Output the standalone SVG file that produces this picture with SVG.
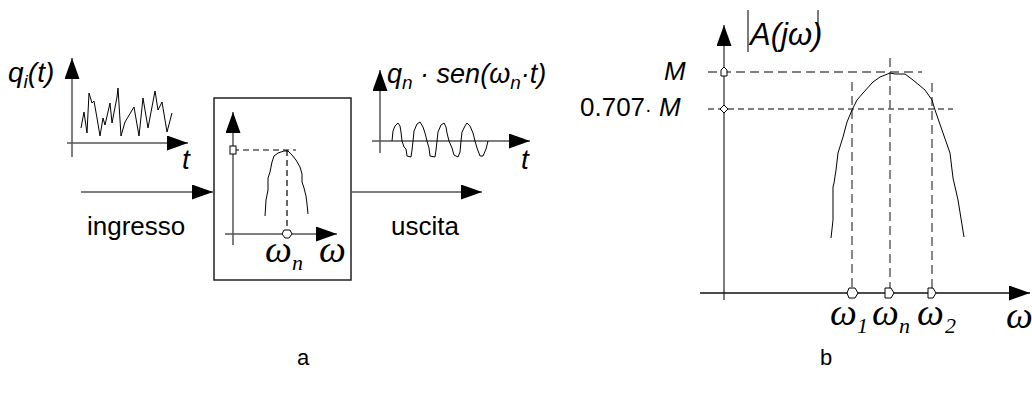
<svg xmlns="http://www.w3.org/2000/svg" width="1032" height="394" viewBox="0 0 1032 394">
<defs>
<marker id="arr" markerUnits="userSpaceOnUse" markerWidth="21" markerHeight="15" refX="21" refY="7.5" orient="auto">
<path d="M0,0 L21,7.5 L0,15 z" fill="#000"/>
</marker>
</defs>
<style>
.ax{stroke:#555;stroke-width:1.5;fill:none}
.axk{stroke:#111;stroke-width:1.3;fill:none}
.cv{stroke:#000;stroke-width:1;fill:none}
.ds{stroke:#555;stroke-width:1.4;fill:none;stroke-dasharray:9 5}
.dsk{stroke:#000;stroke-width:1.2;fill:none;stroke-dasharray:6 4}
.mk{fill:#fff;stroke:#000;stroke-width:1}
.sans{font-family:"Liberation Sans",Arial,sans-serif;fill:#000}
.it{font-family:"Liberation Sans",Arial,sans-serif;font-style:italic;fill:#000}
.ser{font-family:"Liberation Serif","Times New Roman",serif;font-style:italic;fill:#000}
</style>

<g id="input-signal">
<line class="ax" x1="72" y1="157" x2="72" y2="58" marker-end="url(#arr)"/>
<line class="ax" x1="67" y1="143" x2="188" y2="143" marker-end="url(#arr)"/>
<polyline class="cv" points="81,128 84,112 87,133 89,93 92,103 94,101 97,118 100,136 103,118 105,125 110,103 112,123 117,97 118,88 121,136 125,122 134,107 139,136 143,98 148,128 155,91 158,110 162,102 167,132 172,113"/>
<text class="it" x="8" y="82" font-size="28">q<tspan dy="6" font-size="19">i</tspan><tspan dy="-6">(t)</tspan></text>
<text class="it" x="182" y="169" font-size="28">t</text>
</g>

<g id="filter-box">
<rect x="214" y="98" width="137" height="182" fill="none" stroke="#222" stroke-width="1.5"/>
<line class="ax" x1="233" y1="245" x2="233" y2="112" marker-end="url(#arr)"/>
<line class="ax" x1="225" y1="234" x2="337" y2="234" marker-end="url(#arr)"/>
<polyline class="dsk" points="233,150 296,150"/>
<polyline class="dsk" points="287,150 287,234"/>
<path class="cv" d="M265,216 L266,200 L268,190 L268,178 L270,172 L272,162 L274,156 L278,153 L284,151 L288,151 L292,155 L296,160 L300,167 L302,174 L302,182 L304,188 L306,196 L307,204 L308,214"/>
<rect class="mk" x="230" y="146" width="6" height="8"/>
<path class="mk" d="M282,234 L284,230 L290,230 L292,234 L289,238 L285,238 z"/>
<text class="ser" x="265" y="262" font-size="38">ω</text>
<text class="ser" x="292" y="270" font-size="22">n</text>
<text class="ser" x="319" y="262" font-size="38">ω</text>
</g>

<g id="output-signal">
<line class="ax" x1="380" y1="153" x2="380" y2="70" marker-end="url(#arr)"/>
<line class="ax" x1="372" y1="141" x2="530" y2="141" marker-end="url(#arr)"/>
<polyline class="cv" points="392,141 393,131 395,126 398,123 400,126 401,132 402,141 404,147 406,149 407,156 411,157 412,150 413,141 414,131 417,124 420,122 423,127 425,133 427,141 429,148 430,156 435,157 436,150 437,141 438,132 441,125 444,123 446,127 447,133 449,141 452,148 454,155 458,157 460,152 461,141 462,132 465,126 467,123 470,126 473,133 475,141 477,148 480,156 483,156 486,149 488,141"/>
<text class="it" x="387" y="83" font-size="27">q<tspan dy="6" font-size="19">n</tspan><tspan dy="-6"> · sen(ω</tspan><tspan dy="6" font-size="19">n</tspan><tspan dy="-6">·t)</tspan></text>
<text class="it" x="521" y="169" font-size="28">t</text>
</g>

<g id="connectors">
<line class="ax" x1="81" y1="192" x2="213" y2="192" marker-end="url(#arr)"/>
<line class="ax" x1="351" y1="192" x2="482" y2="192" marker-end="url(#arr)"/>
</g>

<g id="labels-a">
<text class="sans" x="87" y="235" font-size="26">ingresso</text>
<text class="sans" x="391" y="235" font-size="26">uscita</text>
<text class="sans" x="297" y="365" font-size="22">a</text>
</g>

<g id="amplitude-plot">
<line class="ax" x1="724" y1="300" x2="724" y2="25" marker-end="url(#arr)"/>
<line class="axk" x1="700" y1="293" x2="1030" y2="293" marker-end="url(#arr)"/>
<polyline class="ds" points="708,72 922,72"/>
<polyline class="dsk" points="708,109 953,109"/>
<polyline class="ds" points="852,82 852,293"/>
<polyline class="ds" points="890,58 890,293"/>
<polyline class="ds" points="932,83 932,293"/>
<path class="cv" d="M831,238 L833,220 L833,187 L834,183 L836,170 L838,153 L843,137 L847,122 L852,110 L857,100 L863,93 L873,82 L880,77 L890,73 L895,74 L905,74 L913,80 L925,90 L932,100 L935,110 L943,133 L950,153 L953,178 L958,200 L964,237"/>
<path class="mk" d="M721,76 L721,70 L724,67 L727,70 L727,76 z"/>
<path class="mk" d="M720,109 L724,105 L728,109 L724,113 z"/>
<path class="mk" d="M847,293 L849,288 L855,288 L858,293 L855,298 L849,298 z"/>
<path class="mk" d="M885,288 L891,288 L894,293 L891,298 L885,298 z"/>
<path class="mk" d="M928,288 L933,288 L936,293 L933,298 L928,298 z"/>
<line x1="748" y1="10" x2="748" y2="52" stroke="#333" stroke-width="1.3"/>
<line x1="818" y1="10" x2="818" y2="42" stroke="#333" stroke-width="1.3"/>
<text class="it" x="750" y="45" font-size="31">A(jω)</text>
<text class="it" x="664" y="80" font-size="26">M</text>
<text class="sans" x="580" y="116" font-size="26">0.707<tspan font-size="20">·</tspan><tspan class="it"> M</tspan></text>
<text class="ser" x="830" y="325" font-size="38">ω</text>
<text class="ser" x="857" y="333" font-size="22">1</text>
<text class="ser" x="872" y="325" font-size="38">ω</text>
<text class="ser" x="899" y="333" font-size="22">n</text>
<text class="ser" x="917" y="325" font-size="38">ω</text>
<text class="ser" x="945" y="333" font-size="22">2</text>
<text class="ser" x="1006" y="328" font-size="38">ω</text>
<text class="sans" x="820" y="365" font-size="22">b</text>
</g>
</svg>
